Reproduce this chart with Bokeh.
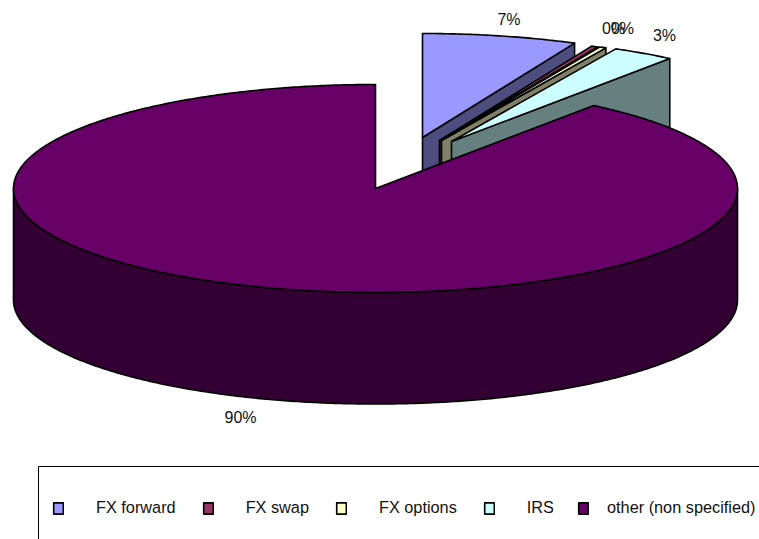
import math
from bokeh.embed import file_html
from bokeh.resources import INLINE
from bokeh.models import Range1d, Legend, LegendItem
from bokeh.plotting import figure
from bokeh.core.properties import value

categories = ["FX forward", "FX swap", "FX options", "IRS", "other (non specified)"]
shares = [6.9, 0.3, 0.3, 2.8, 89.7]

top_colors = ["#9999FF", "#993366", "#FFFFCC", "#CCFFFF", "#660066"]
wall_colors = ["#4D4D80", "#4D1A33", "#808066", "#668080", "#330033"]

# layout (page pixels)
CX, CY, RX, RY, DEPTH = 375, 188, 362, 104, 111.5
explode = [(47, -51), (64, -48), (66, -48), (76, -47), (0, 0)]
label_xy = [(508.5, 19), (613, 28), (622, 28), (664, 35), (240, 417)]
FONT = "Liberation Sans"
W, H = 759, 539

p = figure(width=W, height=H, output_backend="svg", toolbar_location=None,
           x_range=Range1d(0, W), y_range=Range1d(H, 0), min_border=0,
           x_axis_type=None, y_axis_type=None, outline_line_color=None)
p.grid.visible = False


def pt(deg, ox=0, oy=0):
    a = math.radians(deg)
    return CX + ox + RX * math.sin(a), CY + oy - RY * math.cos(a)


def arc(a0, a1, ox=0, oy=0):
    n = max(2, int(abs(a1 - a0) * 2))
    return [pt(a0 + (a1 - a0) * i / n, ox, oy) for i in range(n + 1)]


def poly(pts, fill):
    return p.patch([q[0] for q in pts], [q[1] for q in pts], fill_color=fill,
                   line_color="black", line_width=1.6, line_join="round")


total = sum(shares)
spans, start = [], 0.0
for s in shares:
    spans.append((start, start + s / total * 360))
    start += s / total * 360

top_renderers = []
for i, (a0, a1) in enumerate(spans):
    ox, oy = explode[i]
    tip = (CX + ox, CY + oy)
    if i < 4:
        end = pt(a1, ox, oy)
        poly([tip, end, (end[0], end[1] + DEPTH), (tip[0], tip[1] + DEPTH)], wall_colors[i])
    else:
        front = arc(90, 270)
        poly(front + [(x, y + DEPTH) for x, y in reversed(front)], wall_colors[i])
    top_renderers.append(poly([tip] + arc(a0, a1, ox, oy), top_colors[i]))

# data labels
p.text(x=[q[0] for q in label_xy], y=[q[1] for q in label_xy],
       text=[f"{round(s)}%" for s in shares], text_font=value(FONT),
       text_font_size="16px", text_color="#111111", text_align="center", text_baseline="middle")

# legend frame runs off the page, as in the reference
p.line([38, 38, 775], [560, 466, 466], line_color="black", line_width=1)


def add_legend(idx, x, standoff):
    legend = Legend(items=[LegendItem(label=categories[i], renderers=[top_renderers[i]]) for i in idx],
                    orientation="horizontal", padding=0, margin=0,
                    spacing=26, glyph_width=12, glyph_height=14, label_standoff=standoff,
                    label_text_font=FONT, label_text_font_size="16.3px", label_text_color="#111111",
                    border_line_color=None, background_fill_color=None, background_fill_alpha=0,
                    location=(x, H - 507 - 10))
    p.add_layout(legend, "center")


add_legend([0, 1, 2, 3], 52, 32)
add_legend([4], 577, 18)

open("out.html", "w").write(file_html(p, INLINE))
